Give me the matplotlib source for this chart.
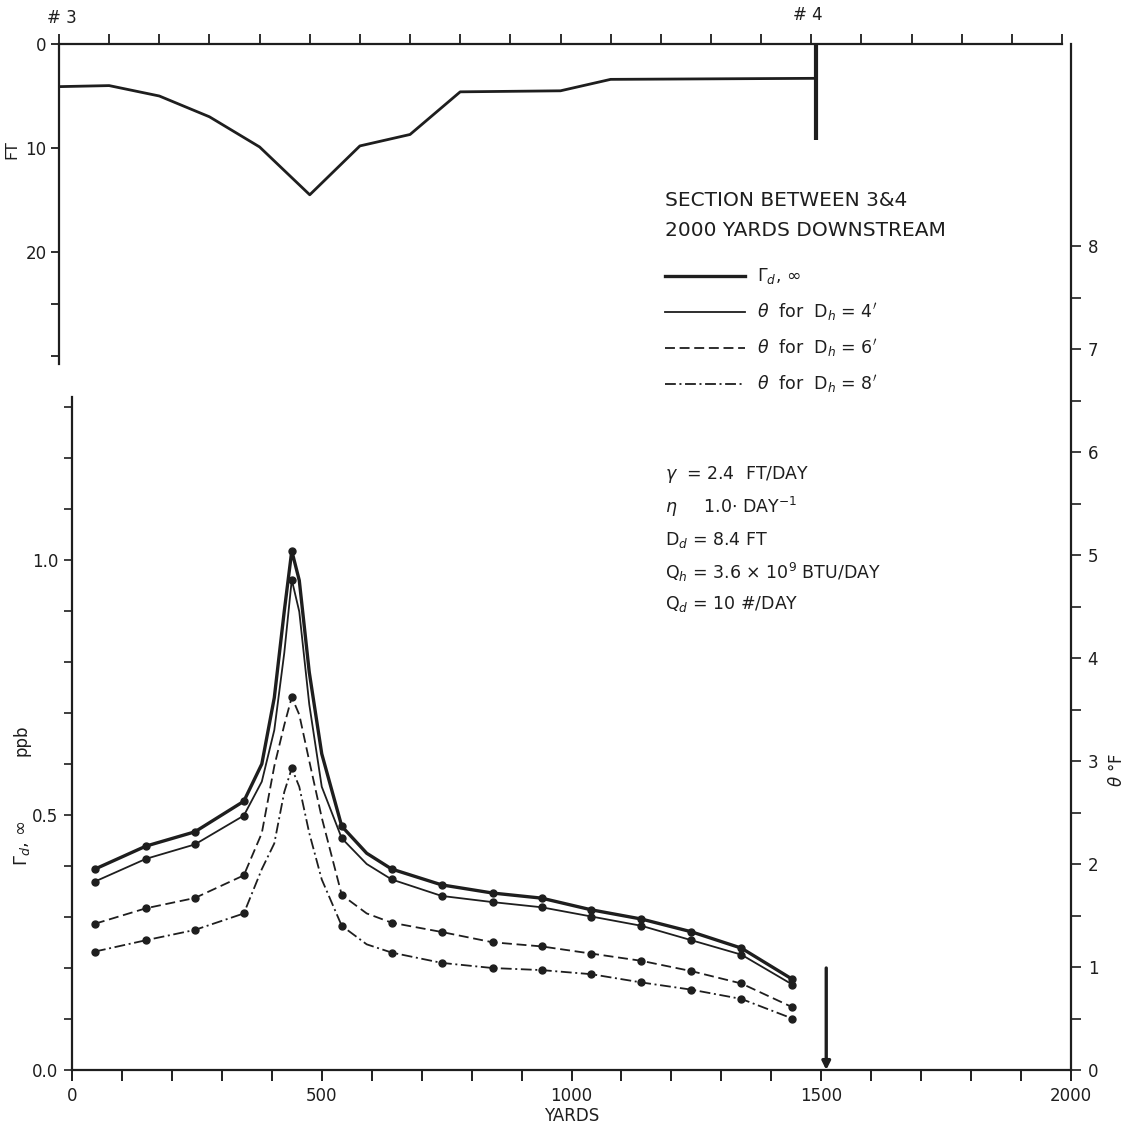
import numpy as np
import matplotlib.pyplot as plt
from matplotlib.lines import Line2D
from matplotlib.ticker import MultipleLocator, FixedLocator

plt.rcParams['font.family'] = ['DejaVu Sans']
plt.rcParams['mathtext.fontset'] = 'dejavusans'

# upper panel: channel depth along the section
depth_x = [0, 100, 200, 300, 400, 500, 600, 700, 800, 1000, 1100, 1510]
depth_ft = [4.1, 4.0, 5.0, 7.0, 9.9, 14.5, 9.8, 8.7, 4.6, 4.5, 3.4, 3.3]
station4 = 1510

# computed stations (dots)
yards = [46, 148, 246, 344, 440, 540, 640, 740, 842, 940, 1040, 1140, 1240, 1340, 1442]
gamma_ppb = [0.394, 0.439, 0.467, 0.527, 1.018, 0.478, 0.394, 0.363, 0.347, 0.337,
             0.314, 0.296, 0.271, 0.239, 0.178]
theta_4 = [1.83, 2.05, 2.19, 2.47, 4.76, 2.25, 1.85, 1.69, 1.63, 1.58, 1.49, 1.40, 1.26, 1.12, 0.83]
theta_6 = [1.42, 1.57, 1.67, 1.89, 3.62, 1.70, 1.43, 1.34, 1.24, 1.20, 1.13, 1.06, 0.96, 0.84, 0.61]
theta_8 = [1.15, 1.26, 1.36, 1.52, 2.93, 1.40, 1.14, 1.04, 0.99, 0.97, 0.93, 0.85, 0.78, 0.69, 0.50]

# extra points (no dots there)
extra_x = [380, 405, 425, 455, 475, 500, 590]
gamma_extra = [0.60, 0.73, 0.90, 0.96, 0.78, 0.62, 0.425]
theta4_extra = [2.80, 3.30, 4.05, 4.45, 3.55, 2.75, 2.00]
theta6_extra = [2.30, 2.95, 3.35, 3.45, 3.00, 2.45, 1.52]
theta8_extra = [1.95, 2.20, 2.70, 2.75, 2.30, 1.85, 1.22]

W, H = 1132, 1124
INK = '#1e1e1e'


def box(l, t, r, b):
    return [l / W, 1 - b / H, (r - l) / W, (b - t) / H]


def fpos(x, y):
    return x / W, 1 - y / H


def merged(xs, ys, px, py):
    x = np.array(xs + px, dtype=float)
    y = np.array(ys + py, dtype=float)
    o = np.argsort(x)
    return x[o], y[o]


fig = plt.figure(figsize=(W / 100, H / 100), dpi=100)

# lower panel, left axis in ppb
ax = fig.add_axes(box(72, 44, 1071, 1070))
ax.set_xlim(0, 2000)
ax.set_ylim(0, 1026 / 510)
ax.spines['top'].set_visible(False)
ax.spines['right'].set_visible(False)
ax.spines['left'].set_bounds(0, 1.32)
for s in ('left', 'bottom'):
    ax.spines[s].set_linewidth(1.6)
    ax.spines[s].set_color(INK)
ax.xaxis.set_major_locator(MultipleLocator(500))
ax.xaxis.set_minor_locator(MultipleLocator(100))
ax.yaxis.set_major_locator(FixedLocator([0, 0.5, 1.0]))
ax.yaxis.set_minor_locator(FixedLocator(np.arange(0.1, 1.31, 0.1)))
ax.yaxis.set_major_formatter(lambda v, p: f'{v:.1f}')
ax.tick_params(axis='x', which='both', direction='out', length=8, width=1.4,
               labelsize=12, pad=4, colors=INK)
ax.tick_params(axis='y', which='both', direction='out', length=6, width=1.2,
               labelsize=12, pad=4, colors=INK)
ax.set_xlabel('YARDS', fontsize=12, labelpad=2, color=INK)

# right axis in degrees F
axr = ax.twinx()
axr.set_ylim(0, 1026 / 103)
for s in ('top', 'left', 'bottom'):
    axr.spines[s].set_visible(False)
axr.spines['right'].set_linewidth(1.6)
axr.spines['right'].set_color(INK)
axr.yaxis.set_major_locator(FixedLocator(range(0, 9)))
axr.yaxis.set_minor_locator(FixedLocator(np.arange(0.5, 8, 1.0)))
axr.tick_params(axis='y', which='both', direction='out', length=7, width=1.2,
                labelsize=12, pad=5, colors=INK)

# curves
dot = dict(marker='o', markersize=5, linestyle='none', color=INK)
gx, gy = merged(yards, gamma_ppb, extra_x, gamma_extra)
ax.plot(gx, gy, color=INK, lw=2.4)
ax.plot(yards, gamma_ppb, **dot)

styles = [('-', theta_4, theta4_extra), ((0, (5.5, 2.6)), theta_6, theta6_extra),
          ((0, (6, 2, 1.1, 2)), theta_8, theta8_extra)]
for ls, vals, pk in styles:
    tx, ty = merged(yards, vals, extra_x, pk)
    axr.plot(tx, ty, color=INK, lw=1.3, linestyle=ls)
    axr.plot(yards, vals, **dot)

# station #4 arrow on the lower panel
ax.annotate('', xy=(station4, 0), xytext=(station4, 0.2),
            arrowprops=dict(arrowstyle='-|>', color=INK, lw=2.4, mutation_scale=12,
                            shrinkA=0, shrinkB=0))

# upper panel: depth profile
axt = fig.add_axes(box(59, 44, 1062, 370))
axt.patch.set_alpha(0)
axt.set_xlim(0, 2000)
axt.set_ylim(326 / 10.4, 0)
axt.spines['right'].set_visible(False)
axt.spines['bottom'].set_visible(False)
axt.spines['left'].set_bounds(0, 30.8)
for s in ('left', 'top'):
    axt.spines[s].set_linewidth(1.6)
    axt.spines[s].set_color(INK)
axt.xaxis.tick_top()
axt.xaxis.set_major_locator(MultipleLocator(100))
axt.xaxis.set_ticklabels([])
axt.yaxis.set_major_locator(FixedLocator([0, 10, 20, 25, 30]))
axt.yaxis.set_major_formatter(lambda v, p: f'{v:.0f}' if v in (0, 10, 20) else '')
axt.tick_params(axis='x', direction='out', length=7, width=1.3, colors=INK)
axt.tick_params(axis='y', direction='out', length=6, width=1.3, labelsize=12,
                pad=3, colors=INK)
axt.plot(depth_x, depth_ft, color=INK, lw=2.0)
axt.plot([station4, station4], [0, 9.2], color=INK, lw=3.0, solid_capstyle='butt')

fig.text(*fpos(62, 18), '# 3', fontsize=12, ha='center', va='center', color=INK)
fig.text(*fpos(808, 15), '# 4', fontsize=12, ha='center', va='center', color=INK)

# side labels
fig.text(*fpos(12, 150), 'FT', fontsize=11.5, rotation=90, ha='center', va='center', color=INK)
fig.text(*fpos(22, 740), 'ppb', fontsize=12, rotation=90, ha='center', va='center', color=INK)
fig.text(*fpos(22, 843), r'$\Gamma_d$, $\infty$', fontsize=13, rotation=90,
         ha='center', va='center', color=INK)
fig.text(*fpos(1117, 770), r'$\theta$ °F', fontsize=12, rotation=90,
         ha='center', va='center', color=INK)

# legend block
fig.text(*fpos(665, 201), 'SECTION BETWEEN 3&4', fontsize=14.5, va='center', color=INK)
fig.text(*fpos(665, 231), '2000 YARDS DOWNSTREAM', fontsize=14.5, va='center', color=INK)
legend_rows = [
    (276, 2.4, '-', r'$\Gamma_d$, $\infty$'),
    (312, 1.3, '-', r'$\theta$  for  D$_h$ = 4$^{\prime}$'),
    (348, 1.3, (0, (5.5, 2.6)), r'$\theta$  for  D$_h$ = 6$^{\prime}$'),
    (384, 1.3, (0, (6, 2, 1.1, 2)), r'$\theta$  for  D$_h$ = 8$^{\prime}$'),
]
for y, lw, ls, label in legend_rows:
    x0, yy = fpos(665, y)
    x1, _ = fpos(745, y)
    fig.add_artist(Line2D([x0, x1], [yy, yy], color=INK, lw=lw, linestyle=ls))
    fig.text(*fpos(757, y), label, fontsize=12.5, va='center', color=INK)

params = [
    (475, r'$\gamma$  = 2.4  FT/DAY'),
    (507, r'$\eta$     1.0$\cdot$ DAY$^{-1}$'),
    (540, r'D$_d$ = 8.4 FT'),
    (572, r'Q$_h$ = 3.6 $\times$ 10$^9$ BTU/DAY'),
    (604, r'Q$_d$ = 10 #/DAY'),
]
for y, txt in params:
    fig.text(*fpos(665, y), txt, fontsize=12.5, va='center', color=INK)

fig.savefig('out.png', dpi=100, facecolor='white')
